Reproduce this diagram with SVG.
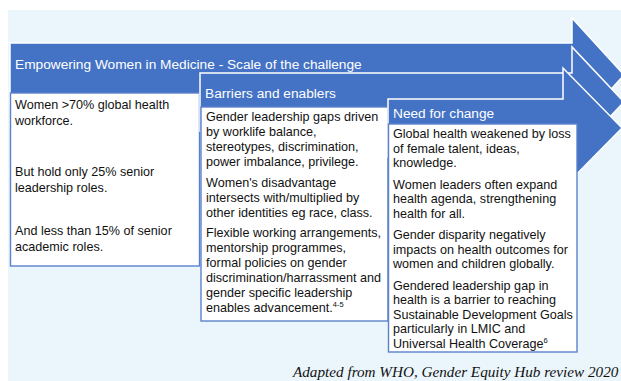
<svg xmlns="http://www.w3.org/2000/svg" width="621" height="381" viewBox="0 0 621 381">
<style>
.arrow{fill:#4472C4;stroke:#FFFFFF;stroke-width:1.5;stroke-linejoin:miter}
.box{fill:#FFFFFF;stroke:#5A82CC;stroke-width:1.4}
.hd{font-family:"Liberation Sans",Arial,sans-serif;font-size:13.7px;fill:#FFFFFF}
.tx{font-family:"Liberation Sans",Arial,sans-serif;font-size:12.6px;fill:#111111}
.sup{font-size:7.5px}
.cap{font-family:"Liberation Serif","Times New Roman",serif;font-style:italic;font-size:15.2px;fill:#111111}
</style>
<rect x="8" y="10" width="613" height="371" fill="#EBF6FC"/>
<g id="connectors"/>
<g id="stage1">
<polygon class="arrow" points="10,43 572,43 572,18 624,75 572,132 572,107 10,107"/>
<text class="hd" x="15" y="69">Empowering Women in Medicine - Scale of the challenge</text>
<rect class="box" x="10.5" y="93" width="189" height="173"/>
<text class="tx" x="15" y="109">Women &gt;70% global health</text>
<text class="tx" x="15" y="125">workforce.</text>
<text class="tx" x="15" y="176">But hold only 25% senior</text>
<text class="tx" x="15" y="192">leadership roles.</text>
<text class="tx" x="15" y="235">And less than 15% of senior</text>
<text class="tx" x="15" y="251">academic roles.</text>
</g>
<g id="stage2">
<polygon class="arrow" points="200,73 572,73 572,47 624,102 572,157 572,131 200,131"/>
<text class="hd" x="205" y="98">Barriers and enablers</text>
<rect class="box" x="201" y="107" width="187" height="214"/>
<text class="tx" x="206" y="121">Gender leadership gaps driven</text>
<text class="tx" x="206" y="136">by worklife balance,</text>
<text class="tx" x="206" y="151">stereotypes, discrimination,</text>
<text class="tx" x="206" y="166">power imbalance, privilege.</text>
<text class="tx" x="206" y="187">Women's disadvantage</text>
<text class="tx" x="206" y="202">intersects with/multiplied by</text>
<text class="tx" x="206" y="217">other identities eg race, class.</text>
<text class="tx" x="206" y="237">Flexible working arrangements,</text>
<text class="tx" x="206" y="252">mentorship programmes,</text>
<text class="tx" x="206" y="267">formal policies on gender</text>
<text class="tx" x="206" y="282">discrimination/harrassment and</text>
<text class="tx" x="206" y="297">gender specific leadership</text>
<text class="tx" x="206" y="312">enables advancement.<tspan class="sup" dy="-5">4-5</tspan></text>
</g>
<g id="stage3">
<polygon class="arrow" points="388,99 563,99 563,68 622,128 563,188 563,157 388,157"/>
<text class="hd" x="393" y="118">Need for change</text>
<rect class="box" x="388.5" y="124" width="188.5" height="228"/>
<text class="tx" x="393" y="138">Global health weakened by loss</text>
<text class="tx" x="393" y="152.5">of female talent, ideas,</text>
<text class="tx" x="393" y="167">knowledge.</text>
<text class="tx" x="393" y="188.5">Women leaders often expand</text>
<text class="tx" x="393" y="203">health agenda, strengthening</text>
<text class="tx" x="393" y="217.5">health for all.</text>
<text class="tx" x="393" y="239">Gender disparity negatively</text>
<text class="tx" x="393" y="253.5">impacts on health outcomes for</text>
<text class="tx" x="393" y="268">women and children globally.</text>
<text class="tx" x="393" y="289.5">Gendered leadership gap in</text>
<text class="tx" x="393" y="304">health is a barrier to reaching</text>
<text class="tx" x="393" y="318.5">Sustainable Development Goals</text>
<text class="tx" x="393" y="333">particularly in LMIC and</text>
<text class="tx" x="393" y="347.5">Universal Health Coverage<tspan class="sup" dy="-5">6</tspan></text>
</g>
<text id="caption" class="cap" x="293" y="377">Adapted from WHO, Gender Equity Hub review 2020</text>
</svg>
